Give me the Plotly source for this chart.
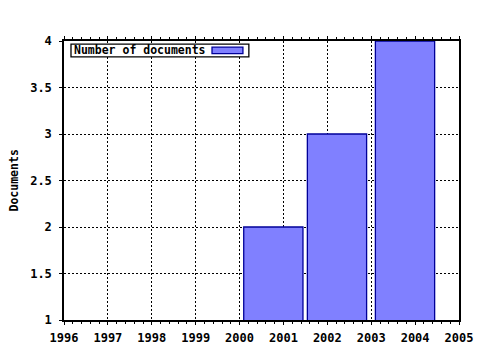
import plotly.graph_objects as go

# Data
bar_x = [2000.77, 2002.22, 2003.77]   # bar centers
bar_values = [2, 3, 4]
bar_width = 1.35
series_name = "Number of documents"
y_title = "Documents"
x_ticks = list(range(1996, 2006))
y_ticks = [1, 1.5, 2, 2.5, 3, 3.5, 4]
y_tick_labels = ["1", "1.5", "2", "2.5", "3", "3.5", "4"]

FONT = "DejaVu Sans Mono"

fig = go.Figure()
fig.add_trace(go.Bar(
    x=bar_x, y=bar_values, width=bar_width, name=series_name,
    marker=dict(color="#8080FF", line=dict(color="#000099", width=1.3)),
    showlegend=False,
))

fig.update_layout(
    width=480, height=350,
    margin=dict(l=64, r=21, t=41, b=30, autoexpand=False),
    paper_bgcolor="white", plot_bgcolor="white",
    font=dict(family=FONT, size=11.5, color="black"),
    xaxis=dict(
        range=[1996, 2005], tickvals=x_ticks, ticktext=[str(v) for v in x_ticks],
        automargin=False,
        showline=True, linecolor="black", linewidth=1.5, mirror="allticks",
        ticks="outside", ticklen=3, tickcolor="black", tickwidth=1,
        ticklabelstandoff=3,
        showgrid=True, gridcolor="black", gridwidth=1, griddash="2px,2px",
        zeroline=False,
        tickfont=dict(family=FONT, size=12, color="black", weight="bold"),
        minor=dict(dtick=0.2, ticks="outside", ticklen=2, tickcolor="black", showgrid=False),
    ),
    yaxis=dict(
        range=[1, 4], tickvals=y_ticks, ticktext=y_tick_labels,
        automargin=False,
        showline=True, linecolor="black", linewidth=1.5, mirror=True,
        ticks="outside", ticklen=3, tickcolor="black",
        ticklabelstandoff=5,
        showgrid=True, gridcolor="black", gridwidth=1, griddash="2px,2px",
        zeroline=False,
        tickfont=dict(family=FONT, size=12, color="black", weight="bold"),
    ),
)

# Y axis title
fig.add_annotation(xref="paper", yref="paper", x=-0.1266, y=0.5,
                   xanchor="center", yanchor="middle", showarrow=False,
                   textangle=-90, text=y_title,
                   font=dict(family=FONT, size=11.5, color="black", weight="bold"))

# Legend drawn to match the original layout (text then swatch)
fig.add_shape(type="rect", xref="paper", yref="paper",
              x0=0.0177, x1=0.468, y0=0.943, y1=0.989,
              line=dict(color="black", width=1.3), fillcolor="white", layer="above")
fig.add_shape(type="rect", xref="paper", yref="paper",
              x0=0.3747, x1=0.453, y0=0.955, y1=0.978,
              line=dict(color="#000099", width=1.3), fillcolor="#8080FF", layer="above")
fig.add_annotation(xref="paper", yref="paper", x=0.02, y=0.966,
                   xanchor="left", yanchor="middle", showarrow=False,
                   text=series_name,
                   font=dict(family=FONT, size=11.5, color="black", weight="bold"))

fig.write_html("out.html")
